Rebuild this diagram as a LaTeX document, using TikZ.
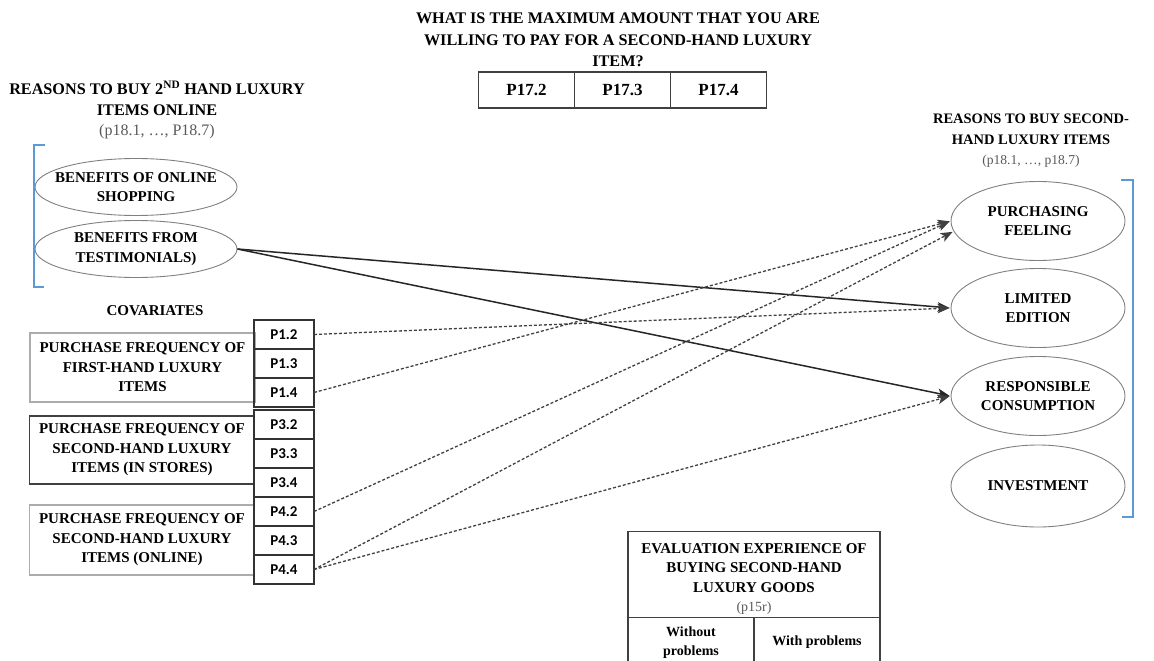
\documentclass[tikz,border=0pt]{standalone}
\usepackage{fontspec}
\setmainfont{Liberation Serif}
\newfontfamily\codefont{Carlito}
\usepackage{xcolor}
\usepackage{tikz}
\usetikzlibrary{arrows.meta}
\usetikzlibrary{shapes.geometric}
\usetikzlibrary{positioning}

\definecolor{bracketblue}{HTML}{5B9BD5}
\definecolor{subgray}{HTML}{595959}

\begin{document}
\begin{tikzpicture}[x=1pt,y=-1pt,->,>={Stealth[length=12pt,width=9.5pt,inset=3pt]},shorten >=1pt,
  font=\fontsize{15}{19.5}\selectfont\bfseries,
  head text/.style={align=center,inner sep=0pt},
  big head/.style={head text,font=\fontsize{16.2}{21.5}\selectfont\bfseries},
  reason node/.style={ellipse,draw=gray,line width=0.9pt,align=center,inner sep=0pt},
  left reason/.style={reason node,inner xsep=-14pt,minimum width=202pt,minimum height=57pt},
  right reason/.style={reason node,minimum width=174pt,minimum height=79pt},
  cov box/.style={rectangle,draw=gray!65,line width=1.3pt,minimum width=225pt,minimum height=69pt,align=center,inner sep=0pt},
  code node/.style={rectangle,draw=black!80,line width=1.3pt,outer sep=0pt,minimum width=60pt,minimum height=29pt,
    inner sep=0pt,font=\fontsize{15}{18}\selectfont\codefont\bfseries},
  price node/.style={rectangle,draw=black!75,line width=1.3pt,outer sep=0pt,minimum width=96pt,minimum height=36pt,
    inner sep=0pt,font=\fontsize{17}{20}\selectfont\bfseries},
  cell node/.style={rectangle,draw=black!75,line width=1.3pt,outer sep=0pt,align=center,inner sep=0pt},
  effect/.style={line width=1.5pt,draw=black!85},
  cov effect/.style={line width=1.3pt,draw=black!75,densely dashed}]

  \useasboundingbox (0,0) rectangle (1154,661);

  % question on top
  \node[big head] (q) at (618,40) {WHAT IS THE MAXIMUM AMOUNT THAT YOU ARE\\
    WILLING TO PAY FOR A SECOND-HAND LUXURY\\ITEM?};
  \node[price node] (p172) at (526.5,90) {P17.2};
  \node[price node] (p173) [right=0pt of p172] {P17.3};
  \node[price node] (p174) [right=0pt of p173] {P17.4};

  % reasons online
  \node[big head,font=\fontsize{16.2}{20.5}\selectfont\bfseries] (lt) at (157,110) {REASONS TO BUY 2\textsuperscript{ND} HAND LUXURY\\ITEMS ONLINE\\
    {\fontsize{16}{20.5}\selectfont\mdseries\color{subgray}(p18.1, …, P18.7)}};
  \node[left reason] (1) at (136,187) {BENEFITS OF ONLINE\\SHOPPING};
  \node[left reason] (2) at (136,249) {BENEFITS FROM\\TESTIMONIALS)};
  \draw[-,bracketblue,line width=2.5pt] (45,145) -- (34,145) -- (34,287) -- (45,287);

  % covariates
  \node[head text] (cv) at (155,311) {COVARIATES};
  \node[cov box] (fa) at (142.5,367.5) {PURCHASE FREQUENCY OF\\FIRST-HAND LUXURY\\ITEMS};
  \node[cov box,draw=black!75,minimum height=68pt] (fb) at (142,450) {PURCHASE FREQUENCY OF\\SECOND-HAND LUXURY\\ITEMS (IN STORES)};
  \node[cov box,minimum height=70pt] (fc) at (142,540) {PURCHASE FREQUENCY OF\\SECOND-HAND LUXURY\\ITEMS (ONLINE)};

  \node[code node] (7) at (284,334.5) {P1.2};
  \node[code node] (8) [below=0pt of 7] {P1.3};
  \node[code node] (9) [below=0pt of 8] {P1.4};
  \node[code node] (10) at (284,424.5) {P3.2};
  \node[code node] (11) [below=0pt of 10] {P3.3};
  \node[code node] (12) [below=0pt of 11] {P3.4};
  \node[code node] (13) [below=0pt of 12] {P4.2};
  \node[code node] (14) [below=0pt of 13] {P4.3};
  \node[code node] (15) [below=0pt of 14] {P4.4};

  % reasons to buy
  \node[head text,font=\fontsize{14.5}{20.5}\selectfont\bfseries] (rt) at (1031,141) {REASONS TO BUY SECOND-\\HAND LUXURY ITEMS\\
    {\fontsize{13.6}{19}\selectfont\mdseries\color{subgray}(p18.1, …, p18.7)}};
  \node[right reason] (3) at (1038,221) {PURCHASING\\FEELING};
  \node[right reason] (4) at (1038,308) {LIMITED\\EDITION};
  \node[right reason] (5) at (1038,396) {RESPONSIBLE\\CONSUMPTION};
  \node[right reason,minimum height=82pt] (6) at (1038,486) {INVESTMENT};
  \draw[-,bracketblue,line width=2.5pt] (1121,180) -- (1133,180) -- (1133,517) -- (1121,517);

  % evaluation table
  \node[cell node,minimum width=252pt,minimum height=86pt] (ev) at (754,574.5) {\rule{0pt}{19.4pt}EVALUATION EXPERIENCE OF\\
    BUYING SECOND-HAND\\LUXURY GOODS\\{\fontsize{14}{19.5}\selectfont\mdseries\color{subgray}(p15r)}};
  \node[cell node,anchor=north west,minimum width=126pt,minimum height=50pt,
    font=\fontsize{14}{19}\selectfont\bfseries] (wo) at (ev.south west) {Without\\problems};
  \node[cell node,anchor=north west,minimum width=126pt,minimum height=50pt,
    font=\fontsize{14}{19}\selectfont\bfseries] (wi) at (wo.north east) {With problems};

  \path
    (2.east) edge[effect] (4.west)
    (2.east) edge[effect] (5.west)
    (7.east) edge[cov effect] (4.west)
    (9.east) edge[cov effect] (3.west)
    (13.east) edge[cov effect] (3.west)
    (15.east) edge[cov effect] (3.187)
    (15.east) edge[cov effect] (5.west);
\end{tikzpicture}
\end{document}
